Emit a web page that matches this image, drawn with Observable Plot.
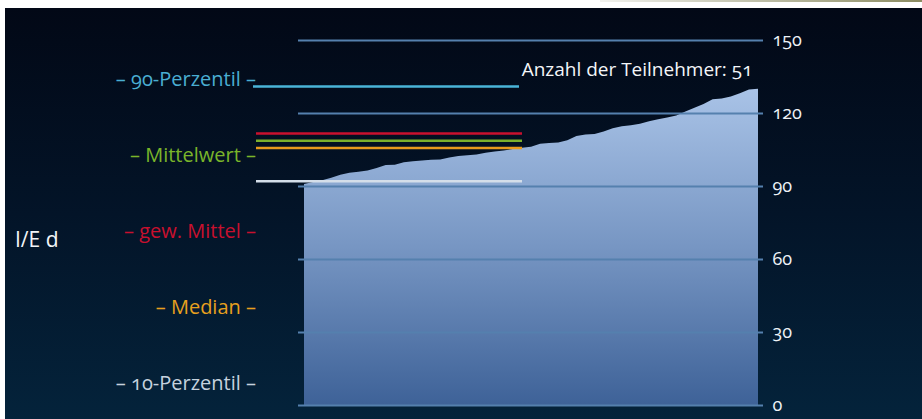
<!DOCTYPE html>
<html><head><meta charset="utf-8">
<script src="https://cdn.jsdelivr.net/npm/d3@7"></script>
<script src="https://cdn.jsdelivr.net/npm/@observablehq/plot@0.6"></script>
<style>
html,body{margin:0;padding:0;background:#fff;width:922px;height:419px;overflow:hidden;}
#stripe{position:absolute;left:600px;top:0;width:322px;height:2px;background:linear-gradient(90deg,#f2f2ee,#8c8c62);}
#panel{position:absolute;left:5px;top:8px;width:917px;height:411px;background:linear-gradient(180deg,#020816 0%,#031428 50%,#04233b 100%);font-family:"Open Sans",sans-serif;font-variant-numeric:oldstyle-nums;}
#chart{position:absolute;left:0;top:0;}
#labels{position:absolute;left:0;top:33px;width:251px;text-align:right;font-size:20px;}
#labels div{height:76px;line-height:76px;white-space:nowrap;}
#ylab{position:absolute;left:10px;top:216px;font-size:21px;color:#f2f5f8;line-height:30px;}
</style></head>
<body>
<div id="stripe"></div>
<div id="panel">
  <div id="labels"></div>
  <div id="ylab"></div>
  <div id="chart"></div>
</div>
<script>
// ---- data ----
const yLabel = "I/E d";
const yTicks = [0, 30, 60, 90, 120, 150];
const participants = [90.8,91.6,92.4,93.4,94.6,95.4,95.9,96.4,97.4,98.6,98.7,99.8,100.2,100.5,100.8,100.9,101.7,102.3,102.6,102.9,103.7,104.2,104.6,105.2,105.7,106.1,107.4,107.7,107.9,108.8,110.5,111.2,111.4,112.4,113.7,114.6,115.0,115.6,116.6,117.4,118.2,119.0,120.6,122.2,123.7,125.7,126.0,126.8,128.1,129.7,130.0];
const refNames = ["90-Perzentil", "gew. Mittel", "Mittelwert", "Median", "10-Perzentil"];
const refValues = [131.1, 111.8, 108.8, 105.8, 92.2];
const labelOrder = ["90-Perzentil", "Mittelwert", "gew. Mittel", "Median", "10-Perzentil"];
const countText = [`Anzahl der Teilnehmer: ${participants.length}`];

// ---- styles ----
const lineColor = {"90-Perzentil":"#4ab4d8","gew. Mittel":"#c8102e","Mittelwert":"#7cb02c","Median":"#e89a1c","10-Perzentil":"#d4dee9"};
const textColor = {"90-Perzentil":"#4aaed2","gew. Mittel":"#c8102e","Mittelwert":"#7ab52a","Median":"#e8a01e","10-Perzentil":"#c6d2de"};

const data = participants.map((v, i) => ({i, v}));
const refs = refNames.map((n, k) => ({name: n, value: refValues[k], color: lineColor[n]}));

document.getElementById("ylab").textContent = yLabel;
const lab = document.getElementById("labels");
labelOrder.forEach(n => {
  const d = document.createElement("div");
  d.textContent = "\u2013 " + n + " \u2013";
  d.style.color = textColor[n];
  lab.appendChild(d);
});

const plot = Plot.plot({
  width: 917, height: 411,
  marginTop: 32, marginBottom: 14, marginLeft: 299, marginRight: 164,
  style: {background: "transparent", color: "#eef2f7", fontFamily: "'Open Sans', sans-serif", fontSize: "18px", fontVariantNumeric: "oldstyle-nums", overflow: "visible"},
  x: {domain: [0, data.length - 1], axis: null},
  y: {domain: [0, 150], axis: null},
  marks: [
    Plot.areaY(data, {x: "i", y: "v", fill: "url(#areaGrad)"}),
    Plot.ruleY(yTicks, {stroke: "#5580ae", strokeWidth: 2, insetLeft: -6, insetRight: -5}),
    Plot.ruleY(refs.filter(d => d.name === "90-Perzentil"), {y: "value", stroke: "color", strokeWidth: 2.5, insetLeft: -51, insetRight: 239}),
    Plot.ruleY(refs.filter(d => d.name !== "90-Perzentil"), {y: "value", stroke: "color", strokeWidth: 2.5, insetLeft: -48, insetRight: 236}),
    Plot.axisY(yTicks, {anchor: "right", tickSize: 0, tickPadding: 14, fontSize: 18, fill: "#eef2f7", fontVariant: "oldstyle-nums"}),
    Plot.text(countText, {frameAnchor: "top-right", dx: -6, dy: 22, fontSize: 19, fill: "#f4f6f9", textAnchor: "end", fontVariant: "oldstyle-nums"})
  ]
});

const ns = "http://www.w3.org/2000/svg";
const defs = document.createElementNS(ns, "defs");
defs.innerHTML = '<linearGradient id="areaGrad" gradientUnits="userSpaceOnUse" x1="0" y1="80" x2="0" y2="397"><stop offset="0" stop-color="#a9c3e7"/><stop offset="0.5" stop-color="#7796c3"/><stop offset="1" stop-color="#3e6298"/></linearGradient>';
plot.insertBefore(defs, plot.firstChild);
document.getElementById("chart").appendChild(plot);
</script>
</body></html>
